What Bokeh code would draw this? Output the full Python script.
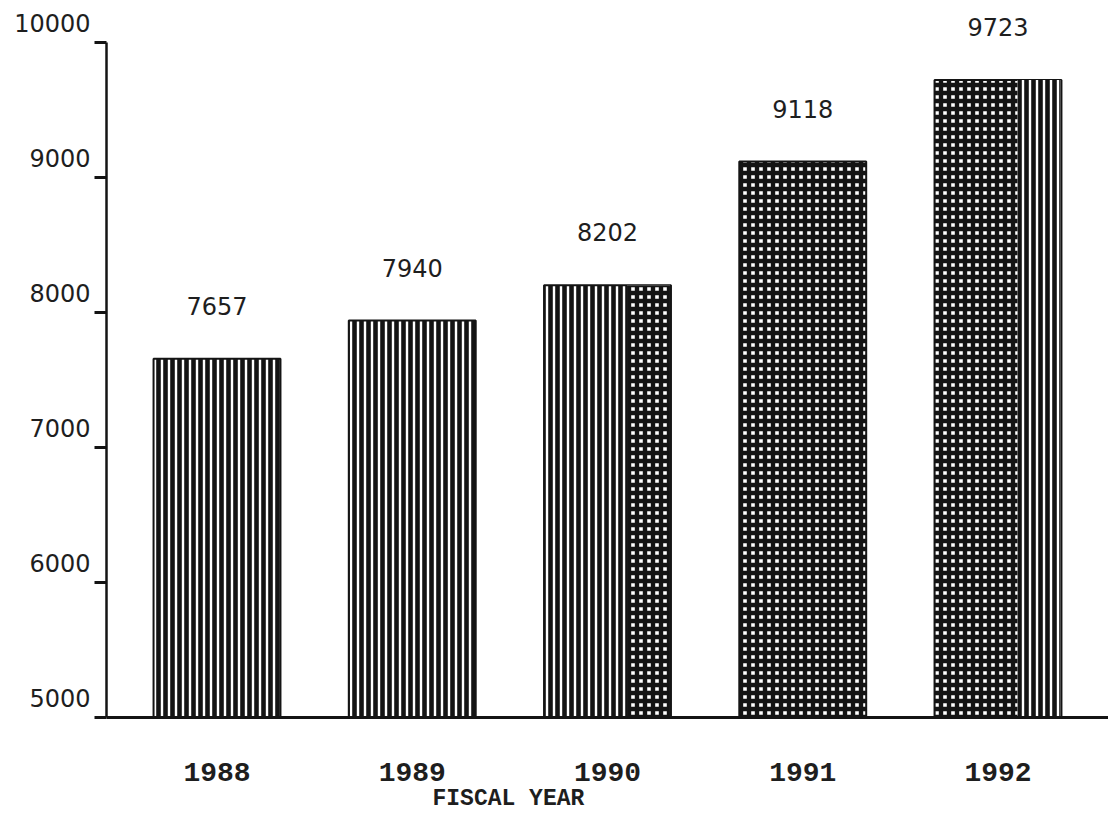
from bokeh.plotting import figure
from bokeh.models import FactorRange, Range1d, FixedTicker, ColumnDataSource, LabelSet, Title
from bokeh.core.properties import value
from bokeh.transform import dodge
from bokeh.embed import file_html
from bokeh.resources import INLINE

# ---- data -------------------------------------------------------------
years = ["1988", "1989", "1990", "1991", "1992"]
staff = [7657, 7940, 8202, 9118, 9723]
y_ticks = [5000, 6000, 7000, 8000, 9000, 10000]
x_title = "FISCAL YEAR"

# ---- styling ----------------------------------------------------------
bar_patterns = ["|", "|", "|", "+", "+"]
pattern_scale = {"|": 7, "+": 8}
pattern_weight = {"|": 4.6, "+": 4.4}
# a second texture band on the right side of two of the bars
band_years = ["1990", "1992"]
band_patterns = ["+", "|"]

INK = "#141414"
TEXT = "#1e1e1e"

bars = ColumnDataSource(dict(
    year=years,
    value=staff,
    label=[str(v) for v in staff],
    pattern=bar_patterns,
    scale=[pattern_scale[s] for s in bar_patterns],
    weight=[pattern_weight[s] for s in bar_patterns],
))
lookup = dict(zip(years, staff))
bands = ColumnDataSource(dict(
    year=band_years,
    value=[lookup[y] for y in band_years],
    pattern=band_patterns,
    scale=[pattern_scale[s] for s in band_patterns],
    weight=[pattern_weight[s] for s in band_patterns],
))

# the frame reaches the top of the canvas so the value labels above the
# tallest bar stay visible; the y axis itself is bounded to 5000-10000
p = figure(
    width=1108, height=813,
    x_range=FactorRange(*years, range_padding=0.0264),
    y_range=Range1d(5000, 10311),
    output_backend="svg", toolbar_location=None,
    min_border_left=106, min_border_right=0,
    min_border_top=0, min_border_bottom=96,
    background_fill_color="white", border_fill_color="white",
)
p.outline_line_color = None
p.xgrid.grid_line_color = None
p.ygrid.grid_line_color = None

p.vbar(x="year", top="value", bottom=5000, width=0.65, source=bars,
       fill_color="white", line_color=INK, line_width=2,
       hatch_pattern="pattern", hatch_color=INK,
       hatch_scale="scale", hatch_weight="weight")

p.vbar(x=dodge("year", 0.21, range=p.x_range), top="value", bottom=5000,
       width=0.22, source=bands,
       fill_color="white", line_color=None,
       hatch_pattern="pattern", hatch_color=INK,
       hatch_scale="scale", hatch_weight="weight")

p.add_layout(LabelSet(x="year", y="value", text="label", source=bars,
                      text_align="center", text_baseline="bottom", y_offset=44,
                      text_font=value("DejaVu Sans"), text_font_size="24px",
                      text_color=TEXT))

# y axis
ya = p.yaxis[0]
ya.bounds = (y_ticks[0], y_ticks[-1])
ya.ticker = FixedTicker(ticks=y_ticks)
ya.axis_line_width = 2.5
ya.axis_line_color = INK
ya.major_tick_in = 0
ya.major_tick_out = 12
ya.major_tick_line_width = 3
ya.major_tick_line_color = INK
ya.minor_tick_line_color = None
ya.major_label_standoff = 4
# labels sit just above their tick marks
ya.major_label_overrides = {t: f"{t}\n" for t in y_ticks}
ya.major_label_text_font = "DejaVu Sans"
ya.major_label_text_font_size = "24px"
ya.major_label_text_line_height = 1.3
ya.major_label_text_color = TEXT

# x axis
xa = p.xaxis[0]
xa.axis_line_width = 3
xa.axis_line_color = INK
xa.major_tick_in = 0
xa.major_tick_out = 0
xa.major_tick_line_color = None
xa.minor_tick_line_color = None
xa.major_label_standoff = 45
xa.major_label_text_font = "Liberation Mono"
xa.major_label_text_font_style = "bold"
xa.major_label_text_font_size = "28px"
xa.major_label_text_color = TEXT

p.add_layout(Title(text=x_title, align="left", offset=326, standoff=0,
                   text_font="Liberation Mono", text_font_style="bold",
                   text_font_size="23px", text_line_height=1.4,
                   text_color=TEXT), "below")

open("out.html", "w").write(file_html(p, INLINE))
